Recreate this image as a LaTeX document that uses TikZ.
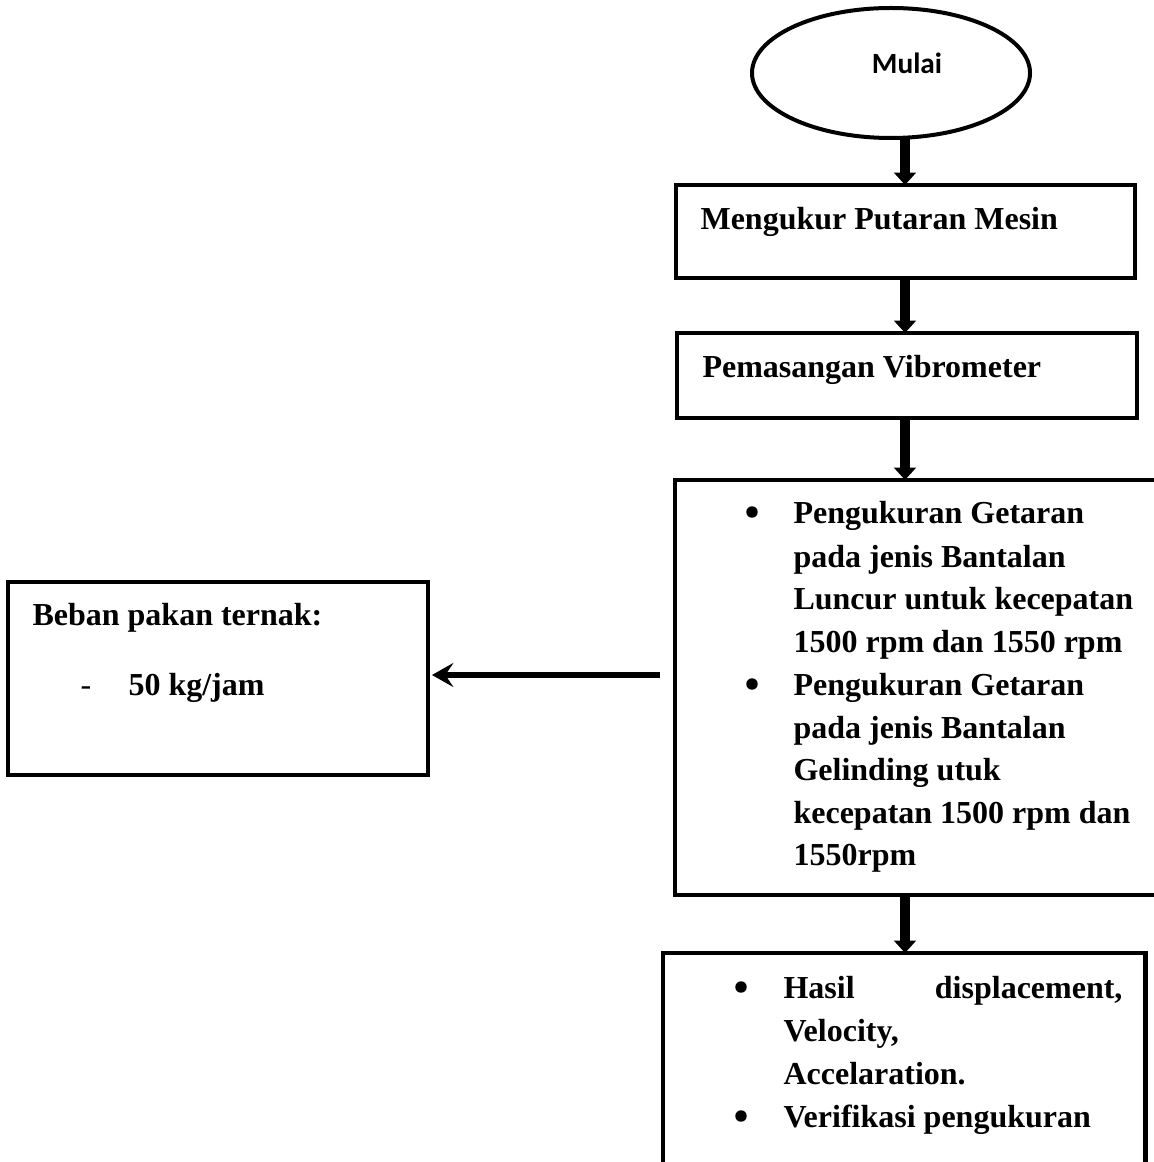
\documentclass[tikz,border=0pt]{standalone}
\usepackage{fontspec}
\setmainfont{Liberation Serif}
\newfontfamily\calib{Carlito}
\usetikzlibrary{shapes.geometric,arrows.meta}
\tikzset{
  box/.style={draw, line width=1.8pt, rectangle, anchor=north west, outer sep=0pt, inner sep=0pt},
  txt/.style={anchor=base west, inner sep=0pt, font=\fontsize{12}{16}\selectfont\bfseries},
  bul/.style={circle, fill, inner sep=0pt, minimum size=4.3pt},
  flow/.style={line width=3.4pt, -{Triangle[width=8pt,length=4.6pt]}},
  sideflow/.style={line width=2.2pt, -{Stealth[width=9pt,length=8pt,inset=3pt]}, shorten >=1.5pt}
}
\begin{document}
\begin{tikzpicture}[x=0.375pt,y=-0.375pt]
\useasboundingbox (0,0) rectangle (1154,1162);
\clip (0,0) rectangle (1154,1162);
% start ellipse
\node[ellipse, draw, line width=1.5pt, minimum width=104.25pt, minimum height=48.75pt, inner sep=0pt, outer sep=0pt] (e) at (891,73) {};
\node[inner sep=0pt, font=\calib\fontsize{11}{13}\selectfont\bfseries] (mulai) at (907,63) {Mulai};
% boxes
\node[box, minimum width=172.1pt, minimum height=34.9pt] (b1) at (676,185) {};
\node[box, minimum width=172.5pt, minimum height=31.9pt] (b2) at (677,333) {};
\node[box, minimum width=185.6pt, minimum height=155.6pt] (b3) at (675,480) {};
\node[box, minimum width=180.8pt, minimum height=88.9pt] (b4) at (663,953) {};
\node[box, minimum width=157.5pt, minimum height=72.4pt] (lb) at (8,582) {};
% texts
\node[txt] (t1) at (700,230) {Mengukur Putaran Mesin};
\node[txt] (t2) at (702,377) {Pemasangan Vibrometer};
\node[bul] (p1) at (752,512) {};
\node[txt] (l1) at (793,523) {Pengukuran Getaran};
\node[txt] (l2) at (793,567) {pada jenis Bantalan};
\node[txt] (l3) at (793,609) {Luncur untuk kecepatan};
\node[txt] (l4) at (793,652) {1500 rpm dan 1550 rpm};
\node[bul] (p2) at (752,684) {};
\node[txt] (l5) at (793,695) {Pengukuran Getaran};
\node[txt] (l6) at (793,738) {pada jenis Bantalan};
\node[txt] (l7) at (793,780) {Gelinding utuk};
\node[txt] (l8) at (793,823) {kecepatan 1500 rpm dan};
\node[txt] (l9) at (793,865) {1550rpm};
\node[bul] (p3) at (741,987) {};
\node[txt] (h1) at (783,998) {Hasil};
\node[txt, anchor=base east] (h2) at (1123,998) {displacement,};
\node[txt] (h3) at (783,1041) {Velocity,};
\node[txt] (h4) at (783,1084) {Accelaration.};
\node[bul] (p4) at (741,1116) {};
\node[txt] (h5) at (783,1127) {Verifikasi pengukuran};
\node[txt] (k1) at (32,625) {Beban pakan ternak:};
\node[txt, font=\fontsize{12}{16}\selectfont] (k2) at (80,695) {-};
\node[txt] (k3) at (128,695) {50 kg/jam};
% connectors
\coordinate (ax) at (905,0);
\draw[flow] (e.south -| ax) -- (b1.north -| ax);
\draw[flow] (b1.south -| ax) -- (b2.north -| ax);
\draw[flow] (b2.south -| ax) -- (b3.north -| ax);
\draw[flow] (b3.south -| ax) -- (b4.north -| ax);
\coordinate (la) at (660,675);
\draw[sideflow] (la) -- (lb.east |- la);
\end{tikzpicture}
\end{document}
